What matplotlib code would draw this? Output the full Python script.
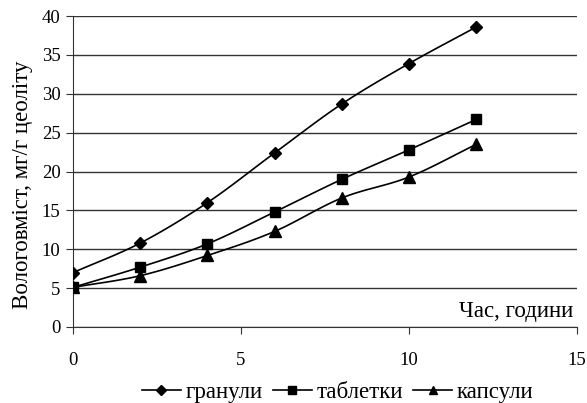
import numpy as np
import matplotlib
matplotlib.use("Agg")
import matplotlib.pyplot as plt

hours = [0, 2, 4, 6, 8, 10, 12]
granules = [7.0, 10.8, 16.0, 22.4, 28.7, 33.9, 38.6]
tablets = [5.1, 7.7, 10.7, 14.8, 19.0, 22.8, 26.7]
capsules = [5.1, 6.6, 9.2, 12.3, 16.6, 19.3, 23.5]
labels = ["гранули", "таблетки", "капсули"]
x_ticks = [0, 5, 10, 15]
y_ticks = [0, 5, 10, 15, 20, 25, 30, 35, 40]

plt.rcParams['font.family'] = ['Liberation Serif', 'DejaVu Serif']


def smooth(x, y, n=20):
    # Catmull-Rom spline through the data points (like Excel smoothed lines)
    x = np.asarray(x, float)
    y = np.asarray(y, float)
    px = np.concatenate([[2 * x[0] - x[1]], x, [2 * x[-1] - x[-2]]])
    py = np.concatenate([[2 * y[0] - y[1]], y, [2 * y[-1] - y[-2]]])
    xs, ys = [], []
    t = np.linspace(0, 1, n, endpoint=False)
    for i in range(1, len(px) - 2):
        for p, out in ((px, xs), (py, ys)):
            p0, p1, p2, p3 = p[i - 1], p[i], p[i + 1], p[i + 2]
            out.extend(0.5 * ((2 * p1) + (-p0 + p2) * t
                              + (2 * p0 - 5 * p1 + 4 * p2 - p3) * t ** 2
                              + (-p0 + 3 * p1 - 3 * p2 + p3) * t ** 3))
    xs.append(x[-1])
    ys.append(y[-1])
    return np.array(xs), np.array(ys)


fig = plt.figure(figsize=(5.87, 4.03), dpi=100)
ax = fig.add_axes([0.1244, 0.1886, 0.8586, 0.7714])

series = [granules, tablets, capsules]
markers = ['D', 's', '^']
msizes = [6, 7, 8]
handles = []
for ys, m, ms, lab in zip(series, markers, msizes, labels):
    sx, sy = smooth(hours, ys)
    ax.plot(sx, sy, color='black', lw=1.2, zorder=3)
    ax.plot(hours, ys, linestyle='none', marker=m, ms=ms, color='black', zorder=4)
    h, = ax.plot([], [], color='black', lw=1.2, marker=m, ms=ms * 0.8, label=lab)
    handles.append(h)

ax.set_xlim(0, 15)
ax.set_ylim(0, 40)
ax.set_xticks(x_ticks)
ax.set_yticks(y_ticks)
ax.yaxis.grid(True, color='#333333', lw=1.0)
ax.set_axisbelow(True)
for s in ['top', 'right']:
    ax.spines[s].set_visible(False)
ax.spines['left'].set_color('#333333')
ax.spines['bottom'].set_color('#333333')
ax.tick_params(axis='y', direction='out', length=5, labelsize=13.5, pad=4, color='#333333')
ax.tick_params(axis='x', direction='out', length=5, labelsize=13.5, pad=13, color='#333333')
ax.set_ylabel("Вологовміст, мг/г цеоліту", fontsize=16.5)
ax.yaxis.set_label_coords(-0.08, 0.457)
ax.text(14.9, 0.6, "Час, години", ha='right', va='bottom', fontsize=16.5)

fig.legend(handles=handles, loc='lower center', bbox_to_anchor=(0.575, -0.05), ncol=3,
           frameon=False, fontsize=16.5, handlelength=1.7, handletextpad=0.2,
           columnspacing=0.45)

fig.savefig("out.png", dpi=100)
